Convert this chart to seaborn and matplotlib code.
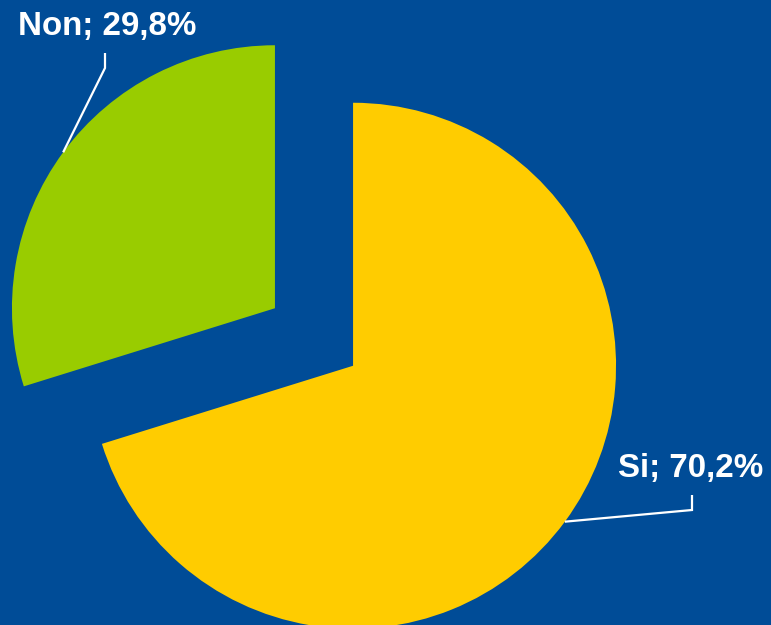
import matplotlib
matplotlib.use("Agg")
import matplotlib.pyplot as plt
import seaborn as sns
import numpy as np

# Data
categories = ["Si", "Non"]
values = [70.2, 29.8]
label_texts = ["Si; 70,2%", "Non; 29,8%"]
colors = ["#FFCC00", "#99CC00"]
BG = "#004C97"

sns.set_style("white")
plt.rcParams['font.family'] = ['Liberation Sans', 'DejaVu Sans']

W, H = 771, 625
fig = plt.figure(figsize=(W / 100, H / 100), dpi=100)
fig.patch.set_facecolor(BG)
ax = fig.add_axes([0, 0, 1, 1])
ax.set_facecolor(BG)

R = 263
cx, cy = 314, H - 337
expl = 48.5
wedges, _ = ax.pie(values, colors=colors, startangle=90, counterclock=False,
                   radius=R, center=(cx, cy), explode=[expl, expl],
                   wedgeprops=dict(linewidth=0), frame=True)
ax.set_xlim(0, W)
ax.set_ylim(0, H)
ax.set_aspect('equal')
ax.axis('off')

# label layout: (text x, text baseline y, elbow top, elbow bottom)
layout = {
    "Si": dict(tx=618, ty=H - 477, ex=692, ey1=H - 495, ey2=H - 510),
    "Non": dict(tx=18, ty=H - 35, ex=105, ey1=H - 53, ey2=H - 68),
}

for w, cat, txt in zip(wedges, categories, label_texts):
    L = layout[cat]
    tm = np.deg2rad((w.theta1 + w.theta2) / 2)
    ax_, ay_ = w.center[0] + w.r * np.cos(tm), w.center[1] + w.r * np.sin(tm)
    ax.plot([L["ex"], L["ex"], ax_], [L["ey1"], L["ey2"], ay_],
            color="white", lw=1.6, solid_capstyle="butt", solid_joinstyle="miter")
    ax.text(L["tx"], L["ty"], txt, color="white", fontsize=23.9,
            fontweight="bold", ha="left", va="baseline")

fig.savefig("out.png", dpi=100, facecolor=fig.get_facecolor())
